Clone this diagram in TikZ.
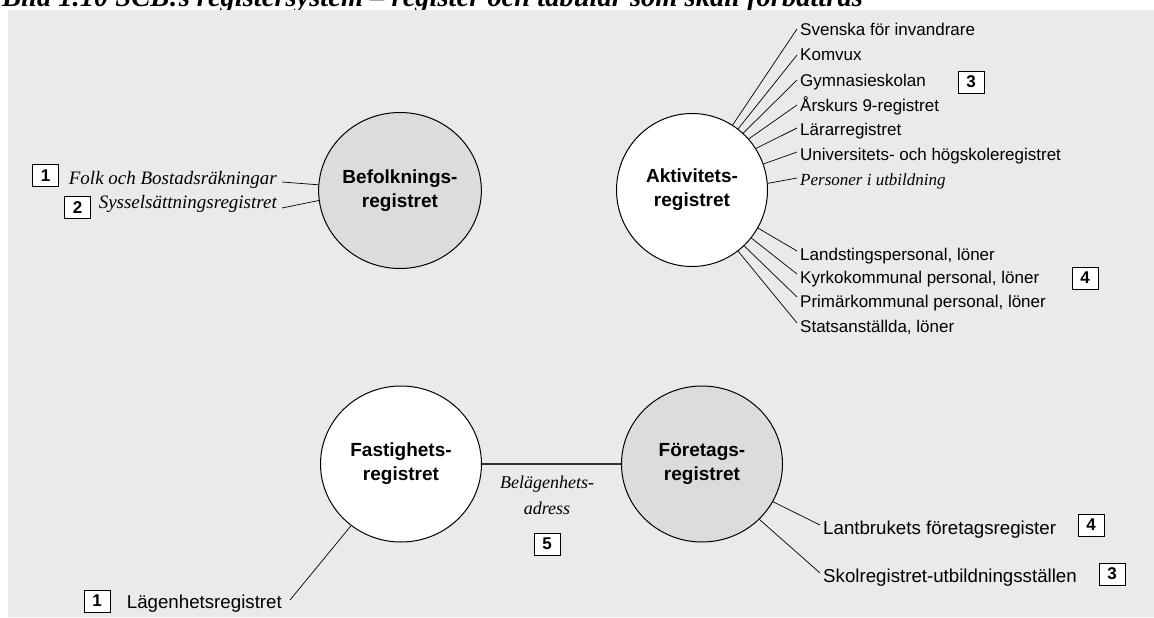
\documentclass[tikz,border=0pt]{standalone}
\usepackage{fontspec}
\setmainfont{Liberation Serif}
\setsansfont{Liberation Sans}
\usetikzlibrary{shapes.geometric}

\definecolor{panel}{HTML}{EAEAEA}
\definecolor{regfill}{HTML}{DCDCDC}

\begin{document}
\begin{tikzpicture}[x=1pt,y=-1pt,
  reg/.style={ellipse, draw, line width=1pt, minimum width=161pt, minimum height=156pt,
    inner sep=0pt, align=center, font=\sffamily\bfseries\fontsize{19}{24}\selectfont},
  lab/.style={anchor=base west, inner xsep=3pt, inner ysep=0pt,
    font=\sffamily\fontsize{17}{20}\selectfont},
  blab/.style={anchor=base west, inner xsep=3pt, inner ysep=0pt,
    font=\sffamily\fontsize{18.7}{22}\selectfont},
  ilab/.style={anchor=base east, inner xsep=5pt, inner ysep=0pt,
    font=\itshape\fontsize{19}{22}\selectfont},
  num/.style={draw, line width=0.8pt, fill=white, minimum width=26pt, minimum height=22pt,
    inner sep=0pt, font=\sffamily\bfseries\fontsize{17}{17}\selectfont},
  link/.style={line width=0.7pt},
  heading/.style={anchor=base west, inner sep=0pt,
    font=\bfseries\itshape\fontsize{28.5}{32}\selectfont}]

\useasboundingbox (0,0) rectangle (1154,618);
\clip (0,0) rectangle (1154,618);

% heading (its upper part runs past the page edge) and grey panel
\node[heading] (ttl) at (2,7) {Bild 1.10 SCB:s registersystem – register och tabular som skall förbättras};
\fill[panel] (8,10) rectangle (1154,617);

% the four registers
\node[reg, fill=regfill] (bef) at (400,190.5) {Befolknings-\\registret};
\node[reg, fill=white, minimum width=151pt, minimum height=153pt] (akt) at (692,190) {Aktivitets-\\registret};
\node[reg, fill=white] (fast) at (401,464) {Fastighets-\\registret};
\node[reg, fill=regfill] (ftg) at (702,464) {Företags-\\registret};

% Befolkningsregistret sources
\node[ilab] (fob) at (282,184) {Folk och Bostadsräkningar};
\node[ilab] (syss) at (282,208) {Sysselsättningsregistret};
\node[num] (n1a) at (45.5,175.5) {1};
\node[num] (n2) at (77.5,207.5) {2};
\draw[link] ([yshift=2pt]fob.base east) -- (bef.176);
\draw[link] (syss.base east) -- (bef.187.5);

% Aktivitetsregistret sources (education)
\node[lab] (sfi) at (797,36) {Svenska för invandrare};
\node[lab] (komvux) at (797,61) {Komvux};
\node[lab] (gymn) at (797,86) {Gymnasieskolan};
\node[lab] (ak9) at (797,111) {Årskurs 9-registret};
\node[lab] (lar) at (797,135) {Lärarregistret};
\node[lab] (uhs) at (797,160) {Universitets- och högskoleregistret};
\node[lab, font=\itshape\fontsize{17}{20}\selectfont] (pers) at (797,185) {Personer i utbildning};
\node[num] (n3a) at (971,82) {3};
\draw[link] (akt.58) -- ([yshift=7pt]sfi.base west);
\draw[link] (akt.53.4) -- ([yshift=6pt]komvux.base west);
\draw[link] (akt.48.2) -- ([yshift=6pt]gymn.base west);
\draw[link] (akt.42.9) -- ([yshift=6pt]ak9.base west);
\draw[link] (akt.33.3) -- ([yshift=7pt]lar.base west);
\draw[link] (akt.20.8) -- ([yshift=8pt]uhs.base west);
\draw[link] (akt.5.4) -- ([yshift=7pt]pers.base west);

% Aktivitetsregistret sources (wages)
\node[lab] (lands) at (797,260) {Landstingspersonal, löner};
\node[lab] (kyrko) at (797,283) {Kyrkokommunal personal, löner};
\node[lab] (prim) at (797,307) {Primärkommunal personal, löner};
\node[lab] (stat) at (797,332) {Statsanställda, löner};
\node[num] (n4a) at (1085,278) {4};
\draw[link] (akt.-30.3) -- ([yshift=9pt]lands.base west);
\draw[link] (akt.-39.6) -- ([yshift=9pt]kyrko.base west);
\draw[link] (akt.-47.2) -- ([yshift=10pt]prim.base west);
\draw[link] (akt.-53.1) -- ([yshift=9pt]stat.base west);

% Fastighetsregistret -- Företagsregistret
\draw[line width=1.2pt, black!80] (fast) -- (ftg);
\node[font=\itshape\fontsize{18}{26}\selectfont, align=center, anchor=base] (adr) at (547,514) {Belägenhets-\\adress};
\node[num] (n5) at (547,544) {5};

% Företagsregistret sources
\node[blab, xshift=5pt] (lant) at (815,534) {Lantbrukets företagsregister};
\node[blab, xshift=5pt] (skol) at (815,582) {Skolregistret-utbildningsställen};
\node[num] (n4b) at (1091,525) {4};
\node[num] (n3b) at (1112,574) {3};
\draw[link] (ftg.-28.8) -- ([yshift=9pt]lant.base west);
\draw[link] (ftg.-44) -- ([yshift=9pt]skol.base west);

% Fastighetsregistret source
\node[blab, anchor=base east, inner xsep=8pt] (lgh) at (290,608) {Lägenhetsregistret};
\node[num] (n1b) at (97,601) {1};
\draw[link] ([yshift=8pt]lgh.base east) -- (fast.231);

\end{tikzpicture}
\end{document}
